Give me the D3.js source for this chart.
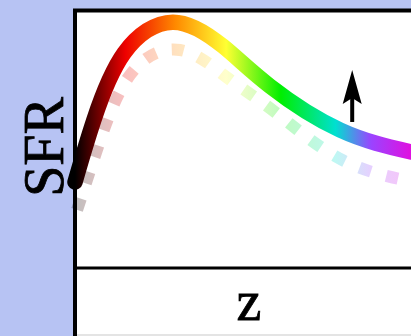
<!DOCTYPE html>
<html>
<head>
<meta charset="utf-8">
<script src="https://cdn.jsdelivr.net/npm/d3@7"></script>
<style>
  html, body { margin: 0; padding: 0; background: #b7c3f3; }
  svg { display: block; }
</style>
</head>
<body>
<div id="chart"></div>
<script>
// solid curve (z, SFR)
var solidZ   = [0, 0.45, 1.17, 2.33, 3.52, 4.64, 6.31, 8.0];
var solidSFR = [0.333, 0.574, 0.833, 0.953, 0.860, 0.705, 0.535, 0.450];

// dotted curve, faded
var dotZ   = [0.05, 0.52, 1.31, 2.5, 3.64, 4.76, 6.36, 8.21];
var dotSFR = [0.225, 0.457, 0.748, 0.845, 0.736, 0.605, 0.419, 0.329];

// arrow
var arrowZ = 6.6;
var arrowSFR = [0.566, 0.767];

// colour stops along z
var stopZ = [0, 1.2, 2.4, 3.6, 4.9, 6.2, 7.05, 8.0];
var stopColors = ["#000000", "#ee0000", "#ff8a00", "#ffff33", "#00ee00", "#00e0d0", "#9a44ff", "#e010e0"];

var W = 411, H = 336;
var padLeft = 75, padTop = 10, axisY = 268;

var svg = d3.select("#chart").append("svg")
  .attr("width", W)
  .attr("height", H);

var x = d3.scaleLinear().domain([0, 8]).range([padLeft, padLeft + 336]);
var y = d3.scaleLinear().domain([0, 1]).range([axisY, padTop]);

var defs = svg.append("defs");
var grad = defs.append("linearGradient")
  .attr("id", "rainbow")
  .attr("gradientUnits", "userSpaceOnUse")
  .attr("x1", x(0)).attr("x2", x(8))
  .attr("y1", 0).attr("y2", 0);
stopZ.forEach(function(z, i) {
  grad.append("stop")
    .attr("offset", (z / 8))
    .attr("stop-color", stopColors[i]);
});

// panel
svg.append("rect")
  .attr("x", padLeft).attr("y", padTop)
  .attr("width", W - padLeft).attr("height", 324)
  .attr("fill", "#fff");
svg.append("rect")
  .attr("x", padLeft + 2).attr("y", 334)
  .attr("width", W - padLeft).attr("height", 2)
  .attr("fill", "#e4e4e4");

var frame = svg.append("g").attr("stroke", "#000").attr("stroke-width", 4);
frame.append("line").attr("x1", padLeft - 2).attr("x2", W).attr("y1", padTop + 0.5).attr("y2", padTop + 0.5);
frame.append("line").attr("x1", padLeft).attr("x2", padLeft).attr("y1", padTop).attr("y2", H);
frame.append("line").attr("x1", padLeft).attr("x2", W).attr("y1", axisY).attr("y2", axisY)
  .attr("stroke-width", 3);

var line = d3.line()
  .x(function(d) { return x(d[0]); })
  .y(function(d) { return y(d[1]); })
  .curve(d3.curveNatural);

svg.append("path")
  .datum(d3.zip(dotZ, dotSFR))
  .attr("d", line)
  .attr("fill", "none")
  .attr("stroke", "url(#rainbow)")
  .attr("stroke-opacity", 0.25)
  .attr("stroke-width", 12)
  .attr("stroke-dasharray", "12,16");

svg.append("path")
  .datum(d3.zip(solidZ, solidSFR))
  .attr("d", line)
  .attr("fill", "none")
  .attr("stroke", "url(#rainbow)")
  .attr("stroke-width", 15.5)
  .attr("stroke-linecap", "round");

// arrow
var ax = x(arrowZ), ay0 = y(arrowSFR[0]), ay1 = y(arrowSFR[1]);
svg.append("line")
  .attr("x1", ax).attr("x2", ax)
  .attr("y1", ay0).attr("y2", ay1 + 20)
  .attr("stroke", "#000").attr("stroke-width", 4);
svg.append("path")
  .attr("d", "M" + ax + "," + ay1 + " L" + (ax + 9.5) + "," + (ay1 + 34) +
             " L" + ax + "," + (ay1 + 28) + " L" + (ax - 9.5) + "," + (ay1 + 34) + "Z")
  .attr("fill", "#000");

// labels
svg.append("text")
  .attr("transform", "translate(63,147) rotate(-90)")
  .attr("text-anchor", "middle")
  .attr("font-family", "Liberation Serif, serif")
  .attr("font-size", 56)
  .attr("stroke", "#000").attr("stroke-width", 0.8)
  .text("SFR");

svg.append("text")
  .attr("x", 249).attr("y", 320)
  .attr("text-anchor", "middle")
  .attr("font-family", "Liberation Serif, serif")
  .attr("font-size", 56)
  .attr("stroke", "#000").attr("stroke-width", 0.8)
  .text("z");
</script>
</body>
</html>
